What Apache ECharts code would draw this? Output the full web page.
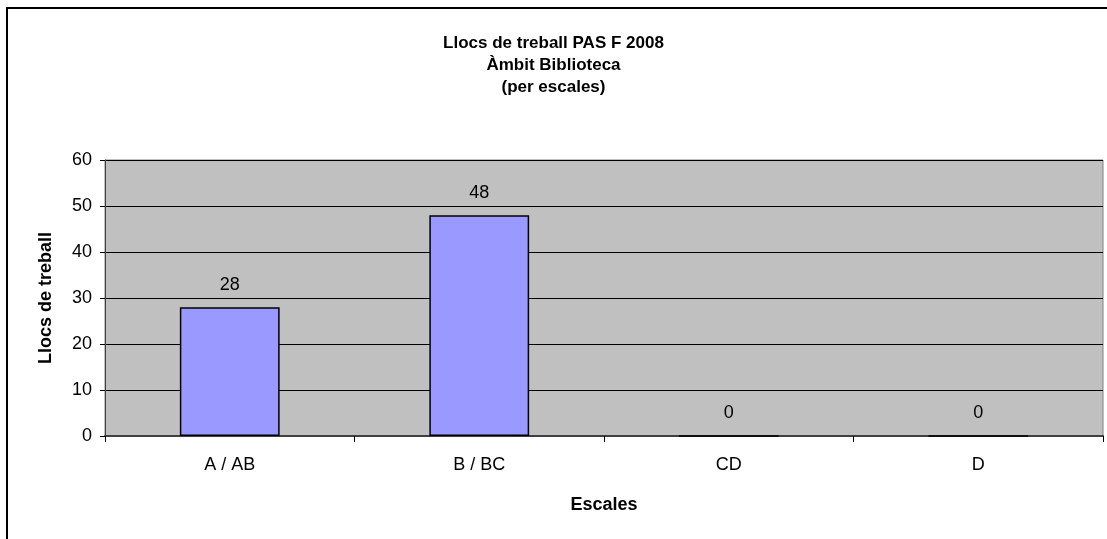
<!DOCTYPE html>
<html>
<head>
<meta charset="utf-8">
<script src="https://cdn.jsdelivr.net/npm/echarts@6/dist/echarts.min.js"></script>
<style>
  html, body { margin: 0; padding: 0; background: #fff; }
  #chart { width: 1107px; height: 539px; }
</style>
</head>
<body>
<div id="chart"></div>
<script>
const categories = ['A / AB', 'B / BC', 'CD', 'D'];
const llocs = [28, 48, 0, 0];
const titleLines = ['Llocs de treball PAS F 2008', 'Àmbit Biblioteca', '(per escales)'];

const font = '"Liberation Sans", Arial, sans-serif';
const chart = echarts.init(document.getElementById('chart'));

chart.setOption({
    animation: false,
    title: {
        text: titleLines.join('\n'),
        left: 'center',
        top: 27,
        textStyle: { fontFamily: font, fontSize: 17, fontWeight: 'bold', color: '#000', lineHeight: 22 }
    },
    graphic: [{
        type: 'rect',
        shape: { x: 7, y: 8, width: 1110, height: 545 },
        style: { fill: 'none', stroke: '#000', lineWidth: 2 },
        silent: true
    }],
    grid: {
        left: 105, right: 4, top: 160, bottom: 103,
        show: true,
        backgroundColor: '#C0C0C0',
        borderColor: '#808080',
        borderWidth: 1
    },
    xAxis: {
        type: 'category',
        data: categories,
        name: 'Escales',
        nameLocation: 'middle',
        nameGap: 60,
        nameTextStyle: { fontFamily: font, fontSize: 18, fontWeight: 'bold', color: '#000' },
        axisLine: { lineStyle: { color: '#404040', width: 2 } },
        axisTick: { show: true, length: 6, lineStyle: { color: '#000' } },
        axisLabel: { fontFamily: font, fontSize: 18, color: '#000', margin: 20 }
    },
    yAxis: {
        type: 'value',
        min: 0, max: 60, interval: 10,
        name: 'Llocs de treball',
        nameLocation: 'middle',
        nameGap: 50,
        nameTextStyle: { fontFamily: font, fontSize: 18, fontWeight: 'bold', color: '#000' },
        axisLine: { show: true, lineStyle: { color: '#404040', width: 1 } },
        axisTick: { show: true, length: 5, lineStyle: { color: '#000' } },
        axisLabel: { fontFamily: font, fontSize: 18, color: '#000', margin: 13 },
        splitLine: { lineStyle: { color: '#000', width: 1 } }
    },
    series: [{
        type: 'bar',
        data: llocs,
        barWidth: '40%',
        itemStyle: { color: '#9999FF', borderColor: '#000', borderWidth: 1.5 },
        label: {
            show: true,
            position: 'top',
            distance: 13,
            fontFamily: font,
            fontSize: 18,
            color: '#000'
        }
    }]
});
</script>
</body>
</html>
